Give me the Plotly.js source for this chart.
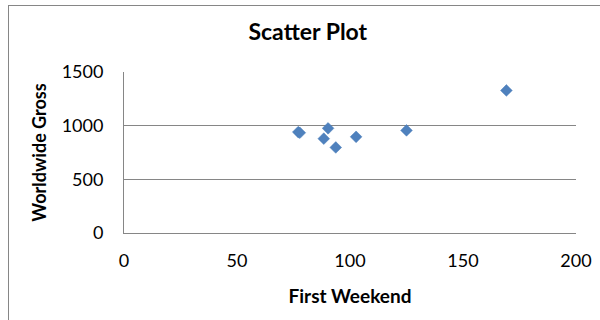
<!DOCTYPE html>
<html>
<head>
<meta charset="utf-8">
<script src="https://cdn.plot.ly/plotly-3.0.1.min.js"></script>
<style>
  html, body { margin: 0; padding: 0; background: #fff; }
  #wrap { position: relative; width: 600px; height: 320px; overflow: hidden; }
  #chart { position: absolute; left: 0; top: 0; width: 600px; height: 320px; }
  #frame { position: absolute; left: 8px; top: 5px; width: 620px; height: 340px; border: 1px solid #868686; box-sizing: border-box; pointer-events: none; }
</style>
</head>
<body>
<div id="wrap">
  <div id="chart"></div>
  <div id="frame"></div>
</div>
<script>
const firstWeekend = [90.3, 88.4, 93.7, 102.7, 77.1, 77.8, 125.0, 169.2];
const worldwideGross = [975, 879, 797, 896, 940, 934, 956, 1328];
const xTicks = [0, 50, 100, 150, 200];
const yTicks = [0, 500, 1000, 1500];

const font = 'Lato, "Open Sans", sans-serif';

Plotly.newPlot('chart', [{
  type: 'scatter',
  mode: 'markers',
  x: firstWeekend,
  y: worldwideGross,
  marker: { symbol: 'diamond', size: 9, color: '#4F81BD', line: { color: '#4A7EBB', width: 0.5 } },
  hoverinfo: 'x+y'
}], {
  width: 600, height: 320,
  paper_bgcolor: 'rgba(0,0,0,0)',
  plot_bgcolor: '#fff',
  margin: { l: 124, r: 24, t: 72, b: 87, pad: 0 },
  showlegend: false,
  font: { family: font, color: '#000', size: 18 },
  title: { text: '<b>Scatter Plot</b>', x: 0.513, xref: 'container', xanchor: 'center', y: 0.9, yref: 'container', yanchor: 'middle', font: { family: font, size: 23, color: '#000' } },
  xaxis: {
    range: [0, 200], tickvals: xTicks, ticktext: xTicks.map(String),
    showgrid: false, zeroline: false, showline: true, linecolor: '#868686', linewidth: 1,
    ticks: '', ticklabelstandoff: 11,
    title: { text: '<b>First Weekend</b>', font: { family: font, size: 19 }, standoff: 20 },
    fixedrange: true
  },
  yaxis: {
    range: [0, 1500], tickvals: yTicks, ticktext: yTicks.map(String),
    showgrid: true, gridcolor: '#868686', gridwidth: 1, zeroline: false,
    showline: true, linecolor: '#868686', linewidth: 1,
    ticks: '', ticklabelstandoff: 16,
    title: { text: '<b>Worldwide Gross</b>', font: { family: font, size: 18 }, standoff: 10 },
    fixedrange: true
  }
}, { displayModeBar: false, staticPlot: true });
</script>
</body>
</html>
